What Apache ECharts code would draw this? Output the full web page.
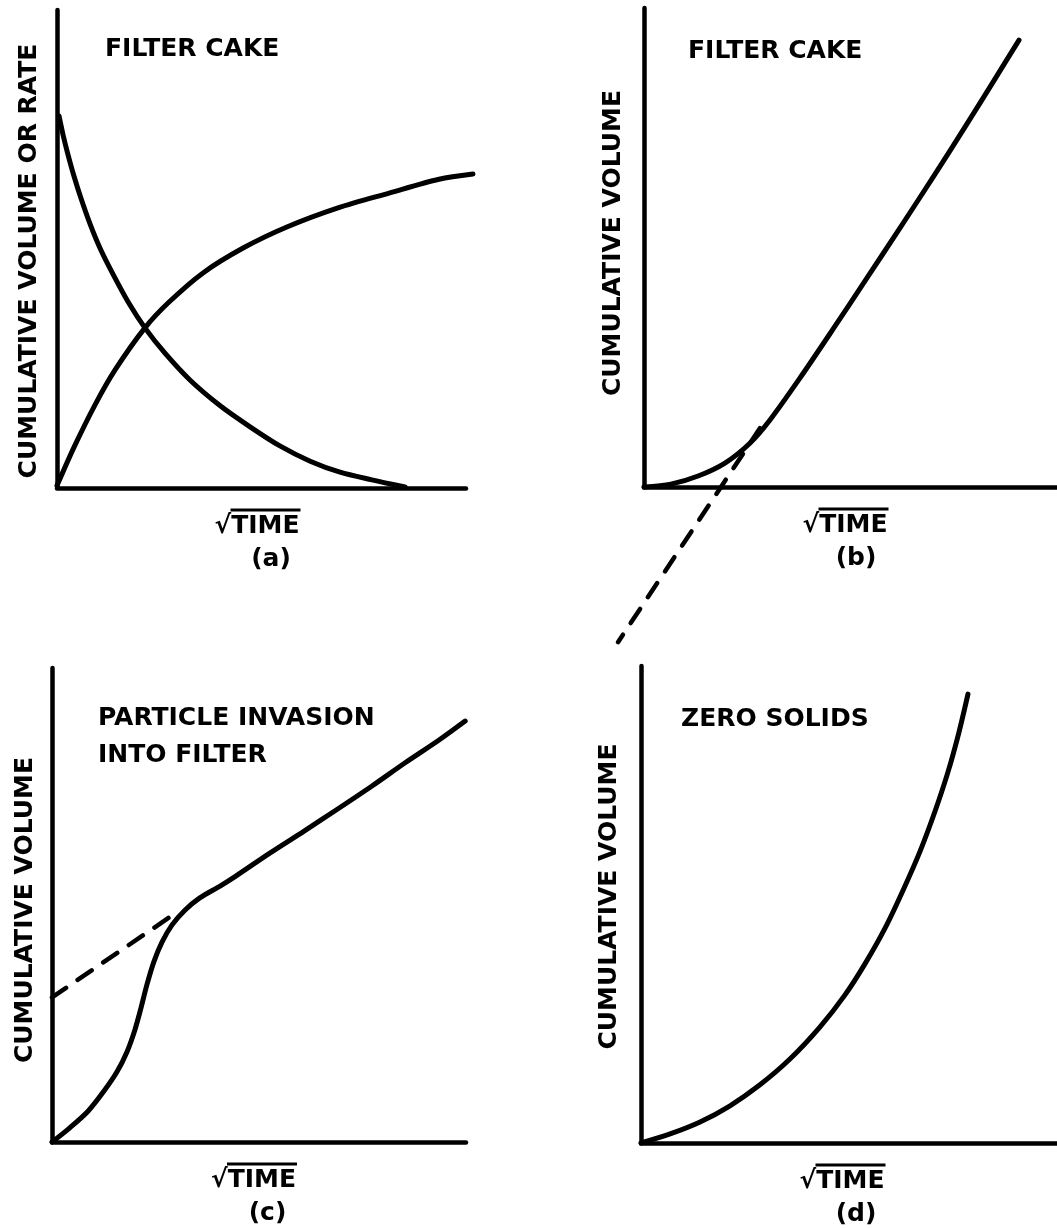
<!DOCTYPE html>
<html>
<head>
<meta charset="utf-8">
<script src="https://cdn.jsdelivr.net/npm/echarts@6/dist/echarts.min.js"></script>
<style>
html,body{margin:0;padding:0;background:#fff;}
#chart{width:1057px;height:1228px;}
</style>
</head>
<body>
<div id="chart"></div>
<script>
// ---- Data (arbitrary units, 0-100 on each axis) ----
// Panel (a): filter cake — rate (falling) and cumulative volume (rising)
const aRate = [[0.5,77.8],[1.5,73.8],[2.7,69.7],[4.2,65.1],[5.9,60.5],[8.1,55.2],[10.5,50.2],[13.4,45.2],[17.4,38.9],[21.5,33.5],[26.4,28.2],[32.5,22.6],[39.9,17.2],[47.2,12.8],[54.5,8.8],[61.9,5.6],[69.2,3.3],[77.0,1.7],[85.1,0.2]];
const aVolume = [[0,0.5],[4.2,8.6],[9.3,17.4],[14.2,24.7],[21.5,33.5],[27.4,38.9],[35.7,45.0],[45.5,50.2],[56.2,54.6],[68.7,58.6],[81.2,61.7],[93.4,64.6],[101.7,65.7]];
// Panel (b): filter cake — cumulative volume and tangent extrapolation
const bVolume = [[0,0],[6.5,0.6],[13.1,2.3],[19.6,5.0],[25.7,9.2],[30.5,14.0],[37.8,22.8],[45.8,33.0],[53.8,43.4],[62.0,54.1],[70.0,64.7],[78.2,75.8],[84.7,84.8],[90.8,93.3]];
const bTangent = [[28.1,12.3],[-6.3,-32.4]];
// Panel (c): particle invasion into filter
const cVolume = [[0,0],[4.3,3.0],[8.7,6.5],[12.6,10.8],[15.7,14.8],[18.1,19.0],[20.0,23.6],[21.5,28.3],[22.9,33.1],[24.6,38.0],[26.6,42.2],[29.0,45.8],[32.1,48.9],[35.7,51.5],[40.6,54.0],[44.4,56.1],[52.7,61.0],[60.9,65.6],[69.1,70.3],[77.3,75.1],[85.3,80.0],[93.5,84.8],[99.8,88.8]];
const cTangent = [[0,30.5],[30.2,48.5]];
// Panel (d): zero solids
const dVolume = [[0,0],[7.0,1.9],[14.2,4.4],[21.4,7.8],[28.6,12.2],[35.8,17.6],[43.0,24.3],[49.0,31.0],[53.8,37.5],[58.7,45.1],[63.0,53.0],[67.1,61.2],[70.7,69.6],[73.8,77.8],[76.4,86.0],[78.6,94.1]];
// Text
const panelTitles = ['FILTER CAKE', 'FILTER CAKE', 'PARTICLE INVASION\nINTO FILTER', 'ZERO SOLIDS'];
const yNames = ['CUMULATIVE VOLUME OR RATE', 'CUMULATIVE VOLUME', 'CUMULATIVE VOLUME', 'CUMULATIVE VOLUME'];
const xName = '√TIME';
const panelTags = ['(a)', '(b)', '(c)', '(d)'];

const FONT = 'DejaVu Sans';
const INK = '#000';

// visible panels
const grids = [
  {left:57, top:10, width:409, height:478},
  {left:644, top:8, width:413, height:479},
  {left:52, top:668, width:414, height:474},
  {left:641, top:666, width:416, height:477},
  // hidden extended frames sharing the scale of panels (b) and (a), for marks that run past the axes
  {left:602.7, top:8, width:454.3, height:670.6},
  {left:57, top:10, width:449.9, height:478}
];
const xPad = [[9,19],[11,11],[11,17],[14,14]];
const yNameGap = [15,18,14,19];
const yNamePad = [[0,24,0,0],[0,0,0,9],[0,10,0,0],[0,0,0,16]];
const titlePos = [{left:105,top:31},{left:688,top:33},{left:98,top:700},{left:681,top:701}];

const axisLine = {show:true, onZero:false, lineStyle:{color:INK, width:4.5, cap:'round'}};

const xAxes = [0,1,2,3].map(i=>({
  type:'value', gridIndex:i, min:0, max:100,
  axisLine:axisLine, axisTick:{show:false}, axisLabel:{show:false}, splitLine:{show:false},
  name:'{gl| }{o| }{gr| }\n{s|' + xName + '}\n{p|' + panelTags[i] + '}',
  nameLocation:'middle', nameGap:19,
  nameTextStyle:{
    rich:{
      gl:{fontSize:1, width:17, height:3, lineHeight:6},
      o:{fontSize:1, width:70, height:3, lineHeight:6, backgroundColor:INK},
      gr:{fontSize:1, width:xPad[i][0], height:3, lineHeight:6},
      s:{fontFamily:FONT, fontWeight:'bold', fontSize:25, color:INK, lineHeight:26, padding:[0,xPad[i][0],0,0]},
      p:{fontFamily:FONT, fontWeight:'bold', fontSize:25, color:INK, lineHeight:40, padding:[0,0,0,xPad[i][1]]}
    }
  }
})).concat([
  {type:'value', gridIndex:4, min:-10, max:100, show:false},
  {type:'value', gridIndex:5, min:0, max:110, show:false}
]);
const yAxes = [0,1,2,3].map(i=>({
  type:'value', gridIndex:i, min:0, max:100,
  axisLine:axisLine, axisTick:{show:false}, axisLabel:{show:false}, splitLine:{show:false},
  name:yNames[i], nameLocation:'middle', nameRotate:90, nameGap:yNameGap[i],
  nameTextStyle:{fontFamily:FONT, fontWeight:'bold', fontSize:25, color:INK, padding:yNamePad[i]}
})).concat([
  {type:'value', gridIndex:4, min:-40, max:100, show:false},
  {type:'value', gridIndex:5, min:0, max:100, show:false}
]);

function curve(data, i, dashed){
  return {
    type:'line', xAxisIndex:i, yAxisIndex:i, data:data,
    smooth: dashed ? false : 0.3, showSymbol:false, symbol:'none', clip:false,
    lineStyle:{color:INK, width: dashed ? 4.5 : 5, type: dashed ? [17,14] : 'solid', cap:'round', join:'round'},
    silent:true, z: 3
  };
}

const option = {
  backgroundColor:'#fff',
  animation:false,
  title: panelTitles.map((t,i)=>({
    text:t, left:titlePos[i].left, top:titlePos[i].top, padding:0,
    textStyle:{fontFamily:FONT, fontWeight:'bold', fontSize:25, color:INK, lineHeight:37}
  })),
  grid: grids,
  xAxis: xAxes,
  yAxis: yAxes,
  series: [
    curve(aRate,0,false),
    curve(aVolume,5,false),
    curve(bVolume,1,false),
    curve(bTangent,4,true),
    curve(cVolume,2,false),
    curve(cTangent,2,true),
    curve(dVolume,3,false)
  ]
};
const chart = echarts.init(document.getElementById('chart'), null, {renderer:'canvas'});
chart.setOption(option);
</script>
</body>
</html>
